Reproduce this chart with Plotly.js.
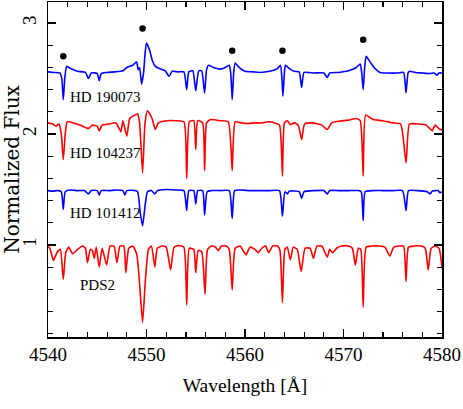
<!DOCTYPE html>
<html>
<head>
<meta charset="utf-8">
<script src="https://cdn.plot.ly/plotly-3.0.1.min.js"></script>
<style>html,body{margin:0;padding:0;background:#fff;}#chart{width:463px;height:409px;}</style>
</head>
<body>
<div id="chart"></div>
<script>
// HD 190073 (blue, top)
const wl190073 = [4540.0,4540.6,4541.2,4541.4,4541.55,4541.7,4541.9,4542.3,4543.0,4543.8,4544.1,4544.4,4545.0,4545.2,4545.4,4546.0,4546.8,4547.6,4548.0,4548.6,4549.0,4549.15,4549.3,4549.5,4549.7,4549.85,4550.0,4550.3,4550.6,4550.9,4551.3,4551.9,4552.3,4552.6,4553.2,4553.8,4554.08,4554.3,4554.7,4555.0,4555.3,4555.6,4555.9,4556.1,4556.3,4556.8,4557.5,4558.0,4558.4,4558.55,4558.7,4558.85,4559.0,4559.4,4560.0,4560.8,4561.5,4562.5,4563.3,4563.6,4563.75,4563.85,4564.0,4564.1,4564.5,4565.0,4565.5,4565.75,4566.0,4567.0,4568.0,4568.35,4568.6,4569.5,4570.5,4571.3,4571.7,4571.85,4572.0,4572.15,4572.3,4572.7,4573.2,4573.7,4574.5,4575.5,4576.1,4576.35,4576.55,4576.7,4577.3,4578.0,4578.8,4579.2,4579.5,4579.7,4580.0];
const fx190073 = [2.56,2.555,2.55,2.50,2.31,2.50,2.61,2.59,2.565,2.555,2.50,2.55,2.545,2.48,2.545,2.555,2.56,2.57,2.60,2.62,2.65,2.58,2.60,2.45,2.55,2.72,2.82,2.76,2.66,2.61,2.59,2.57,2.52,2.565,2.56,2.56,2.40,2.56,2.57,2.39,2.57,2.57,2.37,2.58,2.62,2.60,2.585,2.60,2.62,2.55,2.31,2.55,2.64,2.60,2.565,2.56,2.555,2.565,2.59,2.62,2.50,2.34,2.55,2.62,2.59,2.565,2.56,2.42,2.555,2.55,2.55,2.51,2.55,2.555,2.57,2.60,2.63,2.55,2.40,2.60,2.70,2.65,2.59,2.555,2.55,2.55,2.555,2.37,2.55,2.565,2.555,2.55,2.545,2.55,2.53,2.55,2.55];

// HD 104237 (red)
const wl104237 = [4540.0,4540.5,4540.8,4541.1,4541.35,4541.55,4541.75,4541.95,4542.6,4543.3,4544.1,4544.5,4545.0,4545.2,4545.5,4546.2,4546.9,4547.4,4547.6,4548.0,4548.3,4548.8,4549.1,4549.3,4549.6,4549.85,4550.1,4550.4,4550.6,4550.9,4551.2,4552.0,4553.0,4553.8,4554.08,4554.35,4554.8,4555.0,4555.2,4555.7,4555.9,4556.1,4556.5,4557.5,4558.3,4558.7,4559.0,4559.6,4560.3,4561.0,4561.7,4562.4,4563.0,4563.5,4563.8,4564.0,4564.3,4564.6,4565.0,4565.4,4565.75,4566.05,4566.8,4567.8,4568.35,4568.8,4569.5,4570.5,4571.3,4571.7,4572.0,4572.25,4573.0,4574.0,4575.0,4575.8,4576.35,4576.7,4577.5,4578.4,4579.0,4579.3,4579.8,4580.0];
const fx104237 = [2.10,2.09,2.07,2.09,2.00,1.77,2.00,2.11,2.10,2.08,2.05,2.08,2.07,2.03,2.08,2.09,2.10,2.02,2.12,1.98,2.14,2.17,2.18,2.10,1.65,2.10,2.21,2.17,2.13,2.04,2.10,2.12,2.12,2.11,1.60,2.11,2.12,1.86,2.12,2.10,1.67,2.10,2.13,2.12,2.11,1.67,2.11,2.10,2.095,2.10,2.10,2.11,2.10,2.08,1.62,2.10,2.12,2.085,2.10,2.08,1.95,2.09,2.10,2.08,2.04,2.10,2.115,2.125,2.14,2.12,1.62,2.17,2.13,2.12,2.10,2.09,1.74,2.09,2.09,2.08,2.03,2.08,2.04,2.04];

// HD 101412 (blue)
const wl101412 = [4540.0,4540.5,4541.0,4541.35,4541.55,4541.75,4542.2,4543.0,4543.7,4544.1,4544.4,4545.0,4545.2,4545.4,4546.2,4547.0,4547.6,4547.8,4548.0,4548.8,4549.1,4549.35,4549.6,4549.85,4550.1,4550.5,4550.85,4551.1,4552.0,4553.0,4553.8,4554.08,4554.3,4554.8,4555.0,4555.2,4555.7,4555.9,4556.15,4556.6,4557.5,4558.4,4558.7,4558.95,4559.6,4560.5,4561.5,4562.5,4563.5,4563.8,4564.05,4564.3,4564.5,4565.5,4565.75,4566.0,4567.0,4568.0,4568.35,4568.6,4569.5,4570.5,4571.5,4571.8,4572.0,4572.2,4573.0,4574.0,4575.0,4576.0,4576.35,4576.6,4577.5,4578.5,4578.8,4579.0,4579.6,4579.8,4580.0];
const fx101412 = [1.49,1.485,1.49,1.48,1.32,1.48,1.495,1.49,1.49,1.46,1.49,1.49,1.45,1.49,1.49,1.495,1.49,1.45,1.49,1.49,1.48,1.30,1.17,1.35,1.48,1.49,1.46,1.49,1.50,1.495,1.49,1.31,1.49,1.49,1.37,1.49,1.49,1.27,1.48,1.49,1.49,1.49,1.24,1.49,1.495,1.49,1.49,1.49,1.49,1.26,1.48,1.46,1.485,1.48,1.42,1.48,1.49,1.49,1.46,1.49,1.49,1.49,1.49,1.48,1.22,1.48,1.49,1.49,1.49,1.49,1.31,1.49,1.49,1.48,1.46,1.485,1.49,1.47,1.48];

// PDS2 (red, bottom)
const wlPDS2 = [4540.0,4540.2,4540.55,4540.9,4541.25,4541.55,4541.8,4542.1,4542.5,4543.0,4543.5,4543.8,4544.0,4544.3,4544.5,4544.7,4544.9,4545.2,4545.5,4545.95,4546.3,4546.7,4547.0,4547.3,4547.7,4547.9,4548.2,4548.6,4549.0,4549.3,4549.6,4549.9,4550.2,4550.5,4550.85,4551.1,4551.6,4552.0,4552.45,4552.8,4553.3,4553.8,4554.08,4554.35,4554.8,4555.0,4555.25,4555.6,4555.94,4556.2,4556.6,4557.0,4557.3,4557.6,4558.1,4558.4,4558.7,4559.0,4559.5,4560.1,4560.5,4561.0,4561.35,4561.7,4562.1,4562.4,4562.8,4563.3,4563.55,4563.8,4564.05,4564.3,4564.6,4564.9,4565.3,4565.7,4566.1,4566.6,4566.95,4567.3,4567.8,4568.35,4568.6,4568.9,4569.3,4569.8,4570.5,4570.9,4571.2,4571.5,4571.75,4572.0,4572.3,4572.9,4573.6,4574.2,4574.7,4575.1,4575.7,4576.1,4576.35,4576.6,4577.2,4577.9,4578.3,4578.6,4578.9,4579.3,4579.7,4580.0];
const fxPDS2 = [0.99,0.97,0.86,0.93,0.96,0.69,0.93,0.98,0.92,0.96,0.99,0.97,0.84,0.96,0.95,0.88,0.98,0.80,0.97,0.82,0.99,0.99,0.84,0.99,0.99,0.75,0.97,0.99,0.92,0.65,0.30,0.70,0.96,0.99,0.80,0.97,0.99,0.98,0.775,0.98,0.995,0.98,0.46,0.97,0.96,0.75,0.95,0.94,0.555,0.96,0.99,0.98,0.95,0.99,0.99,0.96,0.595,0.97,0.99,0.91,0.98,0.96,0.93,0.97,0.99,0.93,0.99,0.99,0.95,0.48,0.96,0.98,0.865,0.98,0.96,0.76,0.97,0.97,0.88,0.99,0.99,0.89,0.96,0.93,0.97,0.99,0.99,0.97,0.82,0.97,0.96,0.44,0.98,0.99,0.99,0.98,0.90,0.98,0.99,0.99,0.67,0.98,0.99,0.99,0.97,0.775,0.97,0.99,0.97,0.79];

// Marked features (dots above HD 190073)
const dotWl = [4541.55, 4549.6, 4558.7, 4563.8, 4572.0];
const dotFx = [2.70, 2.95, 2.75, 2.75, 2.85];

// Star labels
const starNames = ["HD 190073", "HD 104237", "HD 101412", "PDS2"];
const labelWl = [4542.0, 4542.0, 4542.0, 4543.0];
const labelFx = [2.33, 1.83, 1.29, 0.64];

const BLUE = "#0000ff", RED = "#ff0000";
const lineTrace = (x, y, c) => ({x: x, y: y, type: "scatter", mode: "lines",
  line: {color: c, width: 1.6, shape: "spline", smoothing: 0.5}, hoverinfo: "skip"});

const data = [
  lineTrace(wl190073, fx190073, BLUE),
  lineTrace(wl104237, fx104237, RED),
  lineTrace(wl101412, fx101412, BLUE),
  lineTrace(wlPDS2, fxPDS2, RED),
  {x: dotWl, y: dotFx, type: "scatter", mode: "markers", marker: {color: "#000", size: 6.5}, hoverinfo: "skip"}
];

const annotations = starNames.map((t, i) => ({
  x: labelWl[i], y: labelFx[i], xref: "x", yref: "y", text: t, showarrow: false,
  xanchor: "left", yanchor: "middle", font: {family: "Liberation Serif", size: 15, color: "#000"}
}));

const axisCommon = {
  showline: true, linecolor: "#000", linewidth: 1.5, mirror: "allticks",
  ticks: "inside", ticklen: 8, tickwidth: 1.2, tickcolor: "#000",
  showgrid: false, zeroline: false, automargin: false,
  tickfont: {family: "Liberation Serif", size: 19, color: "#000"}
};

const layout = {
  width: 463, height: 409,
  margin: {l: 48, r: 21, t: 2, b: 72},
  paper_bgcolor: "#fff", plot_bgcolor: "#fff",
  showlegend: false,
  xaxis: Object.assign({}, axisCommon, {
    range: [4540, 4580], tick0: 4540, dtick: 10,
    minor: {dtick: 2, ticks: "inside", ticklen: 5, tickwidth: 1.2, tickcolor: "#000"},
    title: {text: "Wavelength [Å]", standoff: 14, font: {family: "Liberation Serif", size: 19.5, color: "#000"}}
  }),
  yaxis: Object.assign({}, axisCommon, {
    range: [0.17, 3.19], tick0: 0, dtick: 1, tickangle: -90, ticklabelstandoff: 3,
    minor: {dtick: 0.2, ticks: "inside", ticklen: 5, tickwidth: 1.2, tickcolor: "#000"},
    title: {text: "Normalized Flux", standoff: 6, font: {family: "DejaVu Serif", size: 20, color: "#000"}}
  }),
  annotations: annotations
};

Plotly.newPlot("chart", data, layout, {staticPlot: true, displayModeBar: false});
</script>
</body>
</html>
